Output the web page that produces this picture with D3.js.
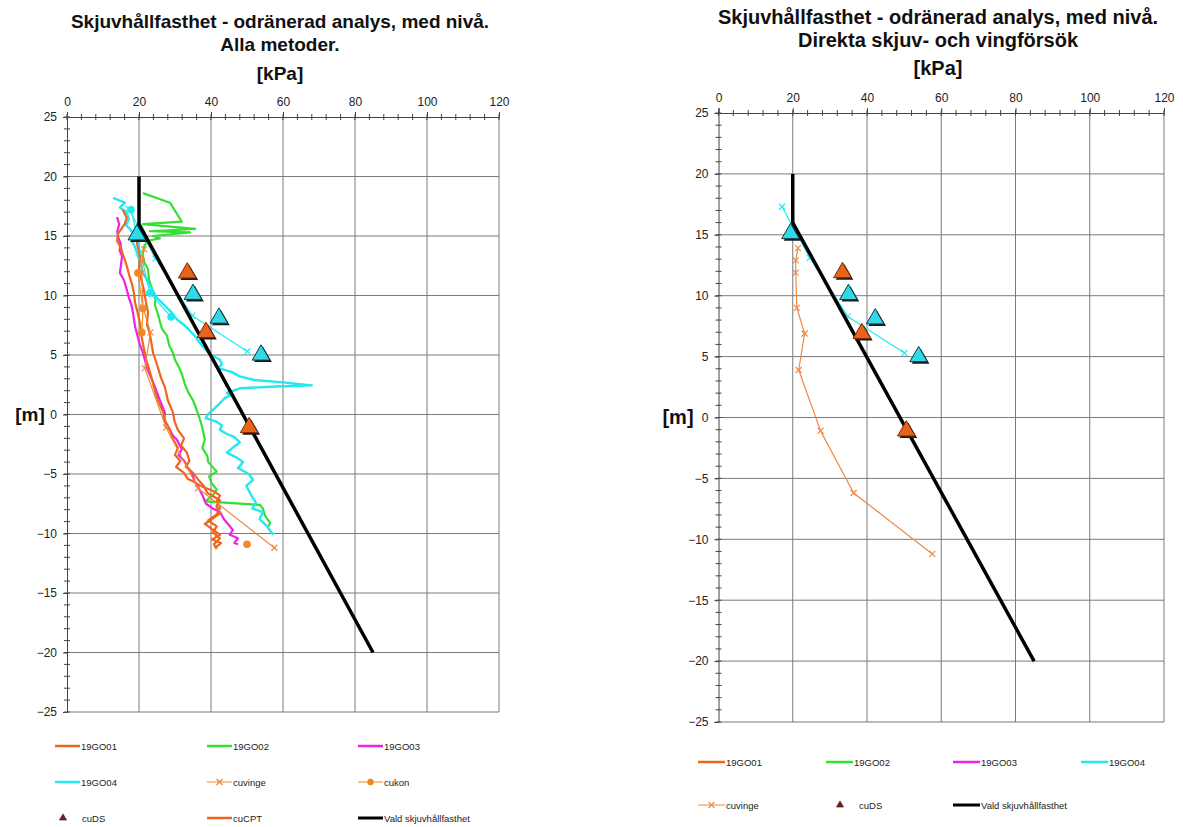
<!DOCTYPE html>
<html>
<head>
<meta charset="utf-8">
<script src="https://cdn.jsdelivr.net/npm/d3@7"></script>
<style>
  html, body { margin: 0; padding: 0; background: #fff; }
  svg { display: block; font-family: "Liberation Sans", Arial, sans-serif; }
</style>
</head>
<body>
<svg id="chart" width="1183" height="827"></svg>
<script>
// Axis ticks
const xTicks = [0, 20, 40, 60, 80, 100, 120];
const yTicks = [25, 20, 15, 10, 5, 0, -5, -10, -15, -20, -25];

// Points are [shear strength kPa, level m]
const valdSkjuv = [[20, 20], [20, 16], [85, -20]];

const cpt19GO01 = [[15.5,17.2],[16.6,16.5],[16.0,16.0],[14.2,15.2],[13.9,14.6],[15.0,14.0],[15.6,13.4],[16.6,12.5],[17.2,11.8],[18.0,11.0],[18.6,10.2],[18.9,9.4],[19.6,8.6],[20.3,7.6],[20.6,6.8],[21.1,5.9],[21.6,5.2],[22.2,4.4],[23.0,3.6],[23.9,2.6],[24.6,1.8],[25.5,1.0],[26.7,0.2],[27.3,-0.6],[28.6,-1.3],[29.3,-2.0],[30.8,-2.8],[30.0,-3.4],[31.5,-3.9],[30.3,-4.4],[32.5,-4.9],[33.5,-5.4],[35.5,-5.7],[37.8,-6.1],[40.5,-6.4],[42.5,-6.8],[41.6,-7.3],[42.5,-7.8],[41.6,-8.4],[39.2,-8.9],[41.6,-9.4],[40.5,-9.9],[42.5,-10.4],[40.8,-10.9],[41.6,-11.3]];

const cuCPT = [[19.7,16.0],[19.0,15.2],[19.5,14.3],[20.3,13.3],[20.0,12.3],[20.6,11.4],[21.4,10.4],[21.9,9.5],[22.5,8.6],[22.2,7.6],[23.0,6.8],[23.9,5.2],[25.0,4.2],[26.1,3.1],[27.2,2.3],[28.0,1.2],[29.4,0.2],[29.9,-0.6],[30.8,-1.3],[32.5,-2.0],[31.7,-2.6],[33.3,-3.2],[34.0,-3.9],[33.0,-4.4],[35.0,-4.9],[36.5,-5.5],[38.0,-6.0],[39.0,-6.6],[42.5,-7.2],[41.5,-7.7],[42.5,-8.3],[38.3,-9.2],[40.6,-9.7],[42.5,-10.1],[40.3,-10.5],[42.8,-10.8],[41.1,-11.2]];

const cpt19GO02 = [[21.1,18.6],[28.6,17.8],[31.9,16.2],[21.1,16.0],[35.6,15.6],[23.0,15.4],[34.2,15.3],[23.9,15.0],[25.8,14.8],[22.5,14.6],[21.5,14.2],[21.0,13.4],[21.6,12.7],[22.5,12.2],[22.8,11.3],[23.6,10.6],[24.6,9.9],[24.4,9.2],[25.3,8.4],[25.8,7.8],[26.4,7.2],[27.8,6.6],[28.4,5.8],[29.4,5.2],[30.0,4.6],[31.2,3.9],[31.9,3.4],[32.8,2.5],[33.8,1.8],[35.0,1.2],[36.0,0.4],[36.9,-0.4],[37.5,-1.0],[38.3,-2.1],[37.6,-2.8],[39.0,-3.5],[39.2,-4.0],[41.6,-4.8],[39.5,-5.2],[40.2,-5.8],[41.6,-6.3],[40.5,-6.8],[38.3,-7.3],[53.6,-7.6],[54.4,-7.9],[55.0,-8.5],[56.4,-9.1],[56.0,-9.4]];

const cpt19GO03 = [[13.9,16.6],[14.5,16.0],[14.0,15.4],[14.2,14.9],[15.0,14.3],[14.6,13.8],[15.3,13.3],[15.0,12.6],[14.7,11.9],[15.8,11.3],[16.6,10.5],[17.2,9.8],[18.0,9.1],[18.4,8.4],[18.9,7.4],[19.6,6.6],[20.2,5.9],[21.1,5.2],[21.8,4.4],[22.6,3.6],[23.5,3.0],[24.4,2.35],[25.3,1.6],[26.2,0.9],[27.2,0.15],[27.0,-0.4],[28.0,-1.0],[28.6,-1.3],[29.5,-1.8],[30.5,-2.1],[31.9,-2.9],[31.0,-3.4],[32.6,-3.9],[33.4,-4.4],[34.7,-4.9],[35.4,-5.6],[36.4,-6.1],[37.8,-6.9],[38.6,-7.5],[40.5,-7.9],[42.5,-8.2],[43.6,-8.8],[45.0,-9.3],[46.1,-9.7],[45.2,-10.1],[47.5,-10.4],[46.5,-10.8],[47.5,-10.9]];

const cpt19GO04 = [[12.8,18.2],[16.1,17.8],[14.7,17.4],[16.5,17.0],[17.2,16.4],[16.4,15.9],[18.3,15.3],[18.0,14.6],[19.0,14.0],[19.7,13.3],[20.5,12.6],[21.1,11.9],[22.4,11.2],[23.6,10.5],[25.0,9.8],[27.0,9.2],[29.0,8.6],[30.5,8.0],[33.0,7.4],[35.5,6.6],[37.2,5.9],[38.6,5.4],[40.0,5.0],[42.5,4.6],[43.0,4.2],[42.0,3.9],[45.5,3.6],[48.0,3.2],[52.0,2.9],[60.0,2.7],[68.0,2.45],[58.0,2.35],[48.0,2.2],[44.4,1.8],[45.5,1.6],[43.9,1.4],[42.0,0.8],[40.6,0.4],[39.1,0.0],[38.5,-0.3],[41.5,-0.6],[43.0,-0.9],[42.5,-1.3],[44.2,-1.6],[46.5,-1.9],[48.0,-2.35],[46.0,-2.8],[44.4,-3.2],[47.0,-3.6],[48.9,-4.0],[47.5,-4.5],[50.5,-5.0],[51.7,-5.5],[49.8,-6.0],[51.4,-6.9],[52.5,-7.4],[51.5,-7.9],[54.4,-8.2],[53.5,-8.8],[55.6,-9.4],[56.5,-9.8],[57.3,-10.1]];

const cuvinge19GO01 = [[21.4,13.9],[20.8,12.9],[20.8,11.9],[21.1,9.0],[23.2,6.9],[21.6,3.9],[27.5,-1.1],[36.4,-6.2],[57.6,-11.2]];
const cuvinge19GO04 = [[17.1,17.3],[24.6,13.1],[34.8,8.3],[50.1,5.3]];

const cukon19GO01 = [[19.7,11.9],[21.1,8.9],[20.8,6.9]];
const cukonDeep = [[50.0,-10.9]];
const cukon19GO04 = [[17.8,17.2],[23.0,10.2],[28.9,8.2]];

const cuDS19GO01 = [[33.4,11.9],[38.6,6.9],[50.6,-1.1]];
const cuDS19GO04 = [[19.4,15.1],[35.0,10.1],[42.2,8.1],[53.9,5.0]];

const C = {
  go01: "#F0641E", go02: "#33E033", go03: "#EE22E6", go04: "#22E8F0",
  vinge: "#F08840", kon: "#F08A1E", ds1: "#E8641A", ds4: "#30D8E8", black: "#000"
};

const svg = d3.select("#chart");

function drawPanel(p) {
  const g = svg.append("g");
  const x = d3.scaleLinear().domain([0, 120]).range([p.x0, p.x1]);
  const y = d3.scaleLinear().domain([-25, 25]).range([p.y0, p.y1]);

  // titles
  const head = (tx, ty, str) => g.append("text").attr("x", tx).attr("y", ty).attr("text-anchor", "middle")
    .attr("font-weight", "bold").attr("font-size", p.tSize).attr("fill", "#111").text(str);
  head(p.cx, p.tY, p.title1);
  head(p.cx, p.tY + p.tGap, p.title2);
  head(p.cx, p.kY, "[kPa]");
  head(p.mX, y(0) + 6, "[m]");

  // grid
  g.append("g").selectAll("line").data(xTicks.filter(d => d > 0)).join("line")
    .attr("x1", d => x(d)).attr("x2", d => x(d)).attr("y1", y(25)).attr("y2", y(-25))
    .attr("stroke", "#7a7a7a").attr("stroke-width", 1);
  g.append("g").selectAll("line").data(yTicks.filter(d => d < 25)).join("line")
    .attr("x1", x(0)).attr("x2", x(120)).attr("y1", d => y(d)).attr("y2", d => y(d))
    .attr("stroke", "#7a7a7a").attr("stroke-width", 1);

  // axes
  const xAxis = d3.axisTop(x).tickValues(xTicks).tickSize(5).tickPadding(6).tickFormat(d3.format("d"));
  const xa = g.append("g").attr("transform", `translate(0,${y(25)})`).call(xAxis);
  const yAxis = d3.axisLeft(y).tickValues(yTicks).tickSize(4).tickPadding(6).tickFormat(d3.format("d"));
  const ya = g.append("g").attr("transform", `translate(${x(0)},0)`).call(yAxis);
  [xa, ya].forEach(a => {
    a.select(".domain").attr("stroke", "#444");
    a.selectAll(".tick line").attr("stroke", "#444");
    a.selectAll(".tick text").attr("font-size", 12).attr("fill", "#222")
      .attr("font-family", "Liberation Sans, Arial, sans-serif");
  });
  // minor ticks crossing the axis lines
  g.append("g").selectAll("line").data(d3.range(0, 121, 4)).join("line")
    .attr("x1", d => x(d)).attr("x2", d => x(d)).attr("y1", y(25) - 3).attr("y2", y(25) + 3)
    .attr("stroke", "#444");
  g.append("g").selectAll("line").data(d3.range(-25, 26, 1)).join("line")
    .attr("x1", x(0) - 3).attr("x2", x(0) + 3).attr("y1", d => y(d)).attr("y2", d => y(d))
    .attr("stroke", "#444");

  const clipId = "clip" + p.id;
  svg.append("clipPath").attr("id", clipId).append("rect")
    .attr("x", x(0)).attr("y", y(25)).attr("width", x(120) - x(0)).attr("height", y(-25) - y(25));
  const plot = g.append("g").attr("clip-path", `url(#${clipId})`);
  const line = d3.line().x(d => x(d[0])).y(d => y(d[1]));

  p.series.forEach(s => {
    if (s.type === "line") {
      plot.append("path").datum(s.data).attr("d", line).attr("fill", "none")
        .attr("stroke", s.color).attr("stroke-width", s.width).attr("stroke-linejoin", "round");
    }
    if (s.marker === "x") {
      plot.append("g").selectAll("path").data(s.data).join("path")
        .attr("d", d => { const px = x(d[0]), py = y(d[1]), r = 3;
          return `M${px - r},${py - r}L${px + r},${py + r}M${px - r},${py + r}L${px + r},${py - r}`; })
        .attr("stroke", s.color).attr("stroke-width", 1.2);
    }
    if (s.marker === "dot") {
      plot.append("g").selectAll("circle").data(s.data).join("circle")
        .attr("cx", d => x(d[0])).attr("cy", d => y(d[1])).attr("r", 3.8).attr("fill", s.color);
    }
    if (s.type === "tri") {
      const tri = d3.symbol().type(d3.symbolTriangle).size(135);
      plot.append("g").selectAll("path").data(s.data).join("path")
        .attr("d", tri).attr("transform", d => `translate(${x(d[0]) + 2},${y(d[1]) + 2})`)
        .attr("fill", "#1a1a1a");
      plot.append("g").selectAll("path").data(s.data).join("path")
        .attr("d", tri).attr("transform", d => `translate(${x(d[0])},${y(d[1])})`)
        .attr("fill", s.color).attr("stroke", s.stroke).attr("stroke-width", 1);
    }
  });

  // legend
  const L = g.append("g").attr("font-size", 9.5).attr("fill", "#222");
  p.legend.forEach(it => {
    const lx = it.x, ly = it.y;
    if (it.kind === "tri") {
      L.append("path").attr("d", d3.symbol().type(d3.symbolTriangle).size(22))
        .attr("transform", `translate(${lx + 8},${ly})`).attr("fill", "#7a1a10").attr("stroke", "#222").attr("stroke-width", 0.6);
      L.append("text").attr("x", lx + 27).attr("y", ly + 3.5).text(it.label);
      return;
    }
    L.append("line").attr("x1", lx).attr("x2", lx + p.legW).attr("y1", ly).attr("y2", ly)
      .attr("stroke", it.color).attr("stroke-width", it.w);
    const mx = lx + p.legW / 2;
    if (it.kind === "x") {
      L.append("path").attr("d", `M${mx - 3},${ly - 3}L${mx + 3},${ly + 3}M${mx - 3},${ly + 3}L${mx + 3},${ly - 3}`)
        .attr("stroke", it.color).attr("stroke-width", 1.2);
    }
    if (it.kind === "dot") {
      L.append("circle").attr("cx", mx).attr("cy", ly).attr("r", 3.2).attr("fill", it.color);
    }
    L.append("text").attr("x", lx + p.legW + 1).attr("y", ly + 3.5).text(it.label);
  });
}

const leftSeries = [
  { type: "line", data: cpt19GO02, color: C.go02, width: 2.2 },
  { type: "line", data: cpt19GO04, color: C.go04, width: 2.4 },
  { type: "line", data: cpt19GO03, color: C.go03, width: 2.2 },
  { type: "line", data: cuCPT, color: C.go01, width: 2.2 },
  { type: "line", data: cpt19GO01, color: C.go01, width: 2.2 },
  { type: "line", data: cukon19GO04, color: C.go04, width: 1.2, marker: "dot" },
  { type: "line", data: cuvinge19GO04, color: C.go04, width: 1.2, marker: "x" },
  { type: "line", data: cukon19GO01, color: C.kon, width: 1.2, marker: "dot" },
  { type: "line", data: cukonDeep, color: C.kon, width: 1.2, marker: "dot" },
  { type: "line", data: cuvinge19GO01, color: C.vinge, width: 1.2, marker: "x" },
  { type: "line", data: valdSkjuv, color: C.black, width: 3.5 },
  { type: "tri", data: cuDS19GO01, color: C.ds1, stroke: "#7a2a00" },
  { type: "tri", data: cuDS19GO04, color: C.ds4, stroke: "#0b3b40" }
];

const rightSeries = [
  { type: "line", data: cuvinge19GO04, color: C.go04, width: 1.2, marker: "x" },
  { type: "line", data: cuvinge19GO01, color: C.vinge, width: 1.2, marker: "x" },
  { type: "line", data: valdSkjuv, color: C.black, width: 3.5 },
  { type: "tri", data: cuDS19GO01, color: C.ds1, stroke: "#7a2a00" },
  { type: "tri", data: cuDS19GO04, color: C.ds4, stroke: "#0b3b40" }
];

drawPanel({
  id: "L", x0: 67, x1: 499, y0: 712, y1: 117, cx: 280, tY: 28, tGap: 23, kY: 80, tSize: 19, mX: 30,
  title1: "Skjuvhållfasthet - odränerad analys, med nivå.", title2: "Alla metoder.",
  series: leftSeries, legW: 25,
  legend: [
    { x: 55, y: 746, label: "19GO01", color: C.go01, w: 2.5 },
    { x: 207, y: 746, label: "19GO02", color: C.go02, w: 2.5 },
    { x: 358, y: 746, label: "19GO03", color: C.go03, w: 2.5 },
    { x: 55, y: 782, label: "19GO04", color: C.go04, w: 2.5 },
    { x: 207, y: 782, label: "cuvinge", color: C.vinge, w: 1, kind: "x" },
    { x: 358, y: 782, label: "cukon", color: C.kon, w: 1, kind: "dot" },
    { x: 55, y: 818, label: "cuDS", kind: "tri" },
    { x: 207, y: 818, label: "cuCPT", color: C.go01, w: 2.5 },
    { x: 358, y: 818, label: "Vald skjuvhållfasthet", color: C.black, w: 3 }
  ]
});

drawPanel({
  id: "R", x0: 718.5, x1: 1164, y0: 722, y1: 113, cx: 938, tY: 24, tGap: 23, kY: 75, tSize: 20, mX: 678,
  title1: "Skjuvhållfasthet - odränerad analys, med nivå.", title2: "Direkta skjuv- och vingförsök",
  series: rightSeries, legW: 27,
  legend: [
    { x: 698, y: 762, label: "19GO01", color: C.go01, w: 2.5 },
    { x: 826, y: 762, label: "19GO02", color: C.go02, w: 2.5 },
    { x: 953, y: 762, label: "19GO03", color: C.go03, w: 2.5 },
    { x: 1081, y: 762, label: "19GO04", color: C.go04, w: 2.5 },
    { x: 698, y: 805, label: "cuvinge", color: C.vinge, w: 1, kind: "x" },
    { x: 832, y: 805, label: "cuDS", kind: "tri" },
    { x: 953, y: 805, label: "Vald skjuvhållfasthet", color: C.black, w: 3 }
  ]
});
</script>
</body>
</html>
